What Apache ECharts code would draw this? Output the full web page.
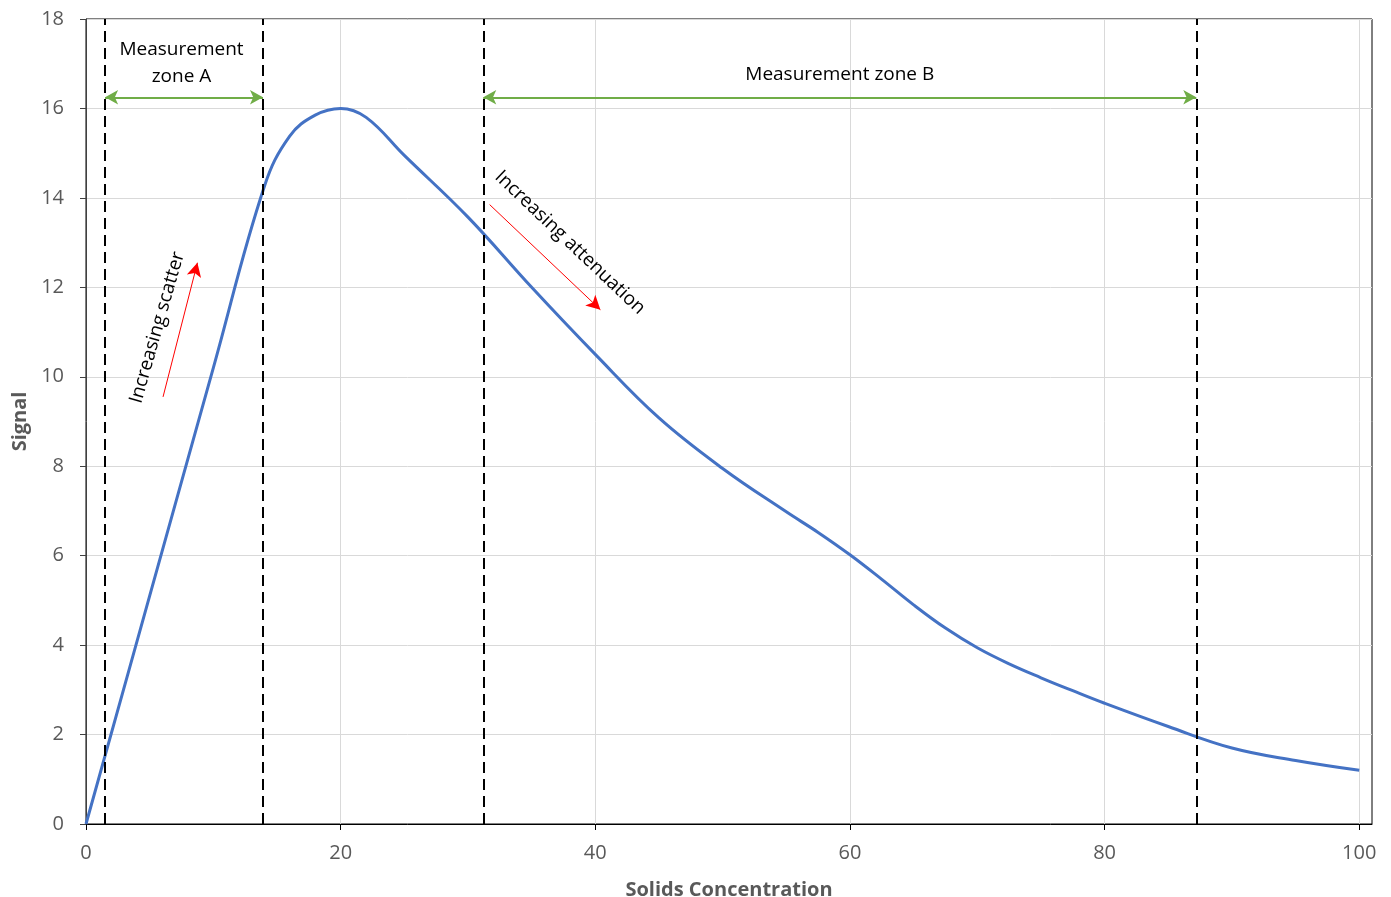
<!DOCTYPE html>
<html>
<head>
<meta charset="utf-8">
<script src="https://cdn.jsdelivr.net/npm/echarts@6/dist/echarts.min.js"></script>
<style>html,body{margin:0;padding:0;background:#fff;width:100%;height:100%;overflow:hidden;}#c{width:100vw;height:100vh;}</style>
</head>
<body>
<div id="c"></div>
<script>
// ---- data ----
const concentration = [0,5,10,14,16,18,20,22,25,30,35,40,45,50,55,57.5,60,62.5,65,67.5,70,72.5,75,77.5,80,85,90,95,100];
const signal =        [0,5.1,10.2,14.25,15.38,15.85,16.0,15.8,14.95,13.57,12.0,10.5,9.08,7.95,6.98,6.52,6.02,5.47,4.9,4.38,3.94,3.58,3.27,2.98,2.7,2.18,1.7,1.42,1.2];
const zoneBoundaries = [1.5, 13.9, 31.2, 87.2];
const zoneArrowLevel = 16.25;
const xTicks = [0,20,40,60,80,100];
const scatterArrow = [[6.05, 9.55],[8.75, 12.55]];
const attenuationArrow = [[31.7, 13.85],[40.4, 11.5]];
const labels = {
  zoneA: {text: 'Measurement\nzone A', x: 7.5, y: 17.02},
  zoneB: {text: 'Measurement zone B', x: 59.2, y: 16.75},
  scatter: {text: 'Increasing scatter', x: 5.6, y: 11.1},
  atten: {text: 'Increasing attenuation', x: 38.0, y: 13.0}
};

const FONT = '"Open Sans", "Noto Sans", sans-serif';
const chart = echarts.init(document.getElementById('c'), null, {renderer: 'canvas'});

const option = {
  animation: false,
  backgroundColor: '#fff',
  grid: {left: 86, right: 19, top: 19, bottom: 73, show: true, borderColor: '#000', borderWidth: 1, containLabel: false, outerBoundsMode: 'none'},
  xAxis: {
    type: 'value', min: 0, max: 101, interval: 20,
    name: 'Solids Concentration', nameLocation: 'middle', nameGap: 56,
    nameTextStyle: {fontFamily: FONT, fontWeight: 'bold', fontSize: 20, color: '#595959'},
    axisLine: {show: true, onZero: false, lineStyle: {color: '#000', width: 1}},
    axisTick: {show: true, length: 6, lineStyle: {color: '#000'}, customValues: xTicks},
    axisLabel: {fontFamily: FONT, fontSize: 20, color: '#595959', margin: 19, customValues: xTicks},
    splitLine: {show: true, lineStyle: {color: '#d9d9d9', width: 1}}
  },
  yAxis: {
    type: 'value', min: 0, max: 18, interval: 2,
    name: 'Signal', nameLocation: 'middle', nameGap: 55, nameRotate: 90,
    nameTextStyle: {fontFamily: FONT, fontWeight: 'bold', fontSize: 20, color: '#595959'},
    axisLine: {show: true, onZero: false, lineStyle: {color: '#404040', width: 1}},
    axisTick: {show: true, length: 6, lineStyle: {color: '#404040'}},
    axisLabel: {fontFamily: FONT, fontSize: 20, color: '#595959', margin: 22},
    splitLine: {show: true, lineStyle: {color: '#d9d9d9', width: 1}}
  },
  series: [
    {
      type: 'line', name: 'Signal',
      data: concentration.map((x, i) => [x, signal[i]]),
      smooth: 0.4, showSymbol: false, symbol: 'none',
      lineStyle: {color: '#4472c4', width: 3},
      z: 3,
      markLine: {
        silent: true, symbol: ['none','none'], animation: false,
        label: {show: false},
        lineStyle: {color: '#000', type: [11, 6], width: 2},
        data: zoneBoundaries.map(v => ({xAxis: v}))
      }
    },
    {
      type: 'line', data: [], name: 'zones',
      markLine: {
        silent: true, animation: false, symbol: ['arrow','arrow'], symbolSize: [11, 13],
        label: {show: false},
        lineStyle: {color: '#70ad47', type: 'solid', width: 2},
        data: [
          [{coord: [zoneBoundaries[0], zoneArrowLevel]}, {coord: [zoneBoundaries[1], zoneArrowLevel]}],
          [{coord: [zoneBoundaries[2], zoneArrowLevel]}, {coord: [zoneBoundaries[3], zoneArrowLevel]}]
        ]
      }
    },
    {
      type: 'line', data: [], name: 'effects',
      markLine: {
        silent: true, animation: false, symbol: ['none','arrow'], symbolSize: [11, 14],
        label: {show: false},
        lineStyle: {color: '#ff0000', type: 'solid', width: 1},
        data: [
          [{coord: scatterArrow[0]}, {coord: scatterArrow[1]}],
          [{coord: attenuationArrow[0]}, {coord: attenuationArrow[1]}]
        ]
      }
    }
  ]
};
chart.setOption(option);

function px(l) { return chart.convertToPixel({gridIndex: 0}, [l.x, l.y]); }
const pA = px(labels.zoneA), pB = px(labels.zoneB), pS = px(labels.scatter), pT = px(labels.atten);
const txtStyle = {fontFamily: FONT, fontSize: 19, fill: '#000', align: 'center', verticalAlign: 'middle', lineHeight: 27};
chart.setOption({
  graphic: [
    {type: 'text', x: pA[0], y: pA[1], style: Object.assign({text: labels.zoneA.text}, txtStyle)},
    {type: 'text', x: pB[0], y: pB[1], style: Object.assign({text: labels.zoneB.text}, txtStyle)},
    {type: 'text', x: pS[0], y: pS[1], rotation: 74 * Math.PI / 180, style: Object.assign({text: labels.scatter.text}, txtStyle)},
    {type: 'text', x: pT[0], y: pT[1], rotation: -43.5 * Math.PI / 180, style: Object.assign({text: labels.atten.text}, txtStyle)}
  ]
});
</script>
</body>
</html>
